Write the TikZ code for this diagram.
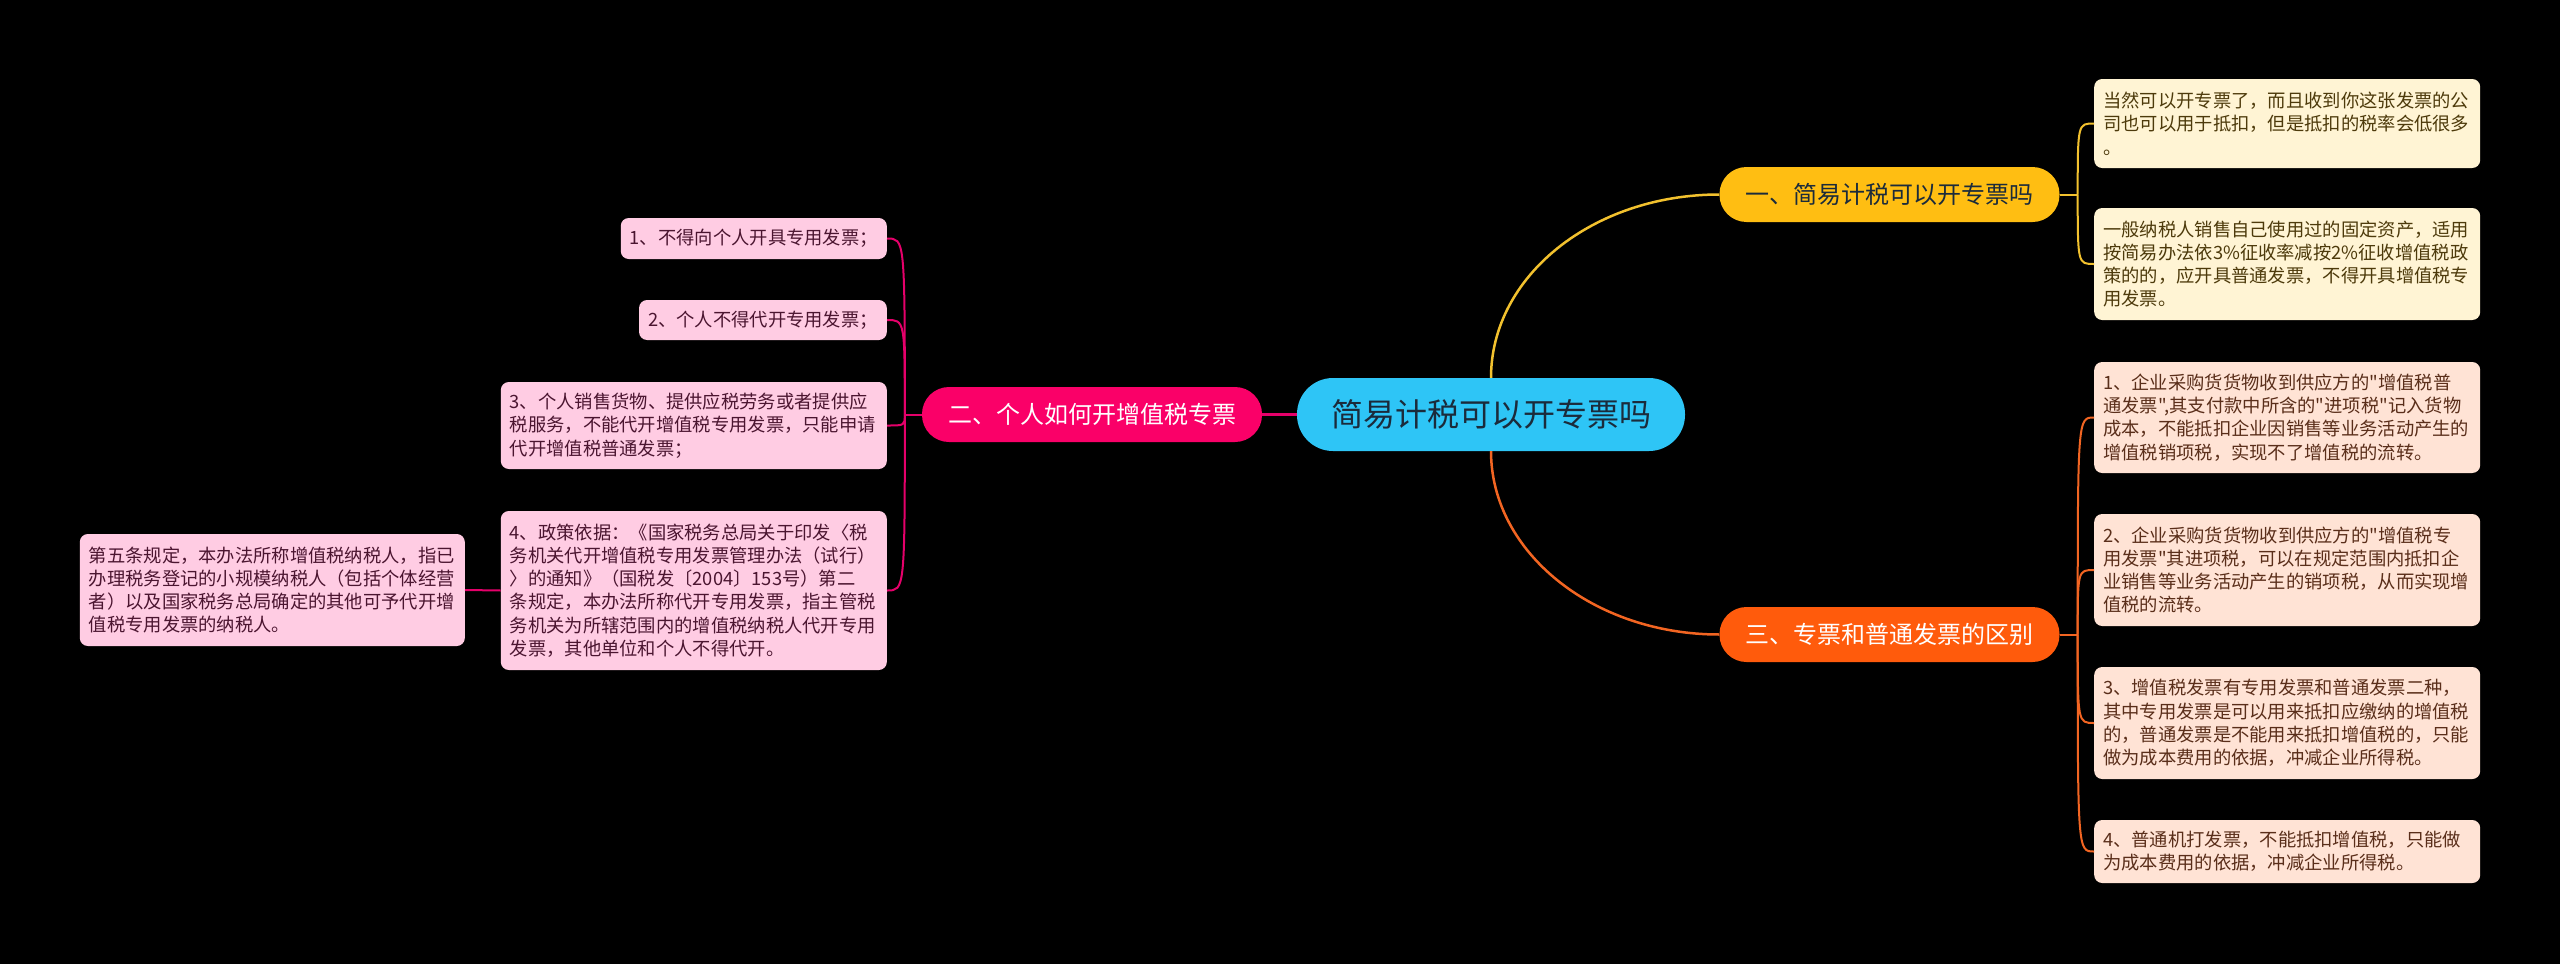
\documentclass[tikz,border=0pt]{standalone}
\usepackage{fontspec}
\setmainfont{Noto Sans CJK SC}[Ligatures=TeXOff]
\definecolor{cfill}{HTML}{2EC5F6}
\definecolor{ctext}{HTML}{1B2B3B}
\definecolor{yfill}{HTML}{FFBE12}
\definecolor{yline}{HTML}{F2C12E}
\definecolor{ofill}{HTML}{FF5B0C}
\definecolor{oline}{HTML}{F26522}
\definecolor{pfill}{HTML}{FA0068}
\definecolor{pline}{HTML}{E5006A}
\definecolor{ylf}{HTML}{FFF4D4}
\definecolor{ylt}{HTML}{4D3A0B}
\definecolor{olf}{HTML}{FFE3D5}
\definecolor{olt}{HTML}{5A2E1A}
\definecolor{plf}{HTML}{FFCCE3}
\definecolor{plt}{HTML}{4B1530}
\begin{document}
\begin{tikzpicture}[x=1pt,y=-1pt,
  centre/.style={fill=cfill, text=ctext, rounded corners=36pt, minimum width=388pt, minimum height=73pt, inner sep=0pt, font=\fontsize{32}{36}\selectfont},
  branch/.style={rounded corners=27pt, minimum width=340pt, minimum height=55pt, inner sep=0pt, font=\fontsize{24}{28}\selectfont},
  leaf/.style={rounded corners=8pt, inner xsep=9pt, inner ysep=0pt, align=left, font=\fontsize{18.3}{23.3}\selectfont},
  wide/.style={text width=368pt},
  yleaf/.style={leaf, fill=ylf, text=ylt, anchor=west},
  oleaf/.style={leaf, fill=olf, text=olt, anchor=west},
  pleaf/.style={leaf, fill=plf, text=plt, anchor=east},
  ycon/.style={draw=yline, line width=2.5pt},
  ocon/.style={draw=oline, line width=2.5pt},
  pcon/.style={draw=pline, line width=2.5pt},
  ysub/.style={draw=yline, line width=2pt},
  osub/.style={draw=oline, line width=2pt},
  psub/.style={draw=pline, line width=2pt}
]
\fill[black] (0,0) rectangle (2560,964);
\useasboundingbox (0,0) rectangle (2560,964);

% central and branches
\node[centre] (c) at (1491,414.5) {简易计税可以开专票吗};
\node[branch, fill=yfill, text=ctext] (b1) at (1889.5,194.5) {一、简易计税可以开专票吗};
\node[branch, fill=ofill, text=white] (b3) at (1889.5,634.5) {三、专票和普通发票的区别};
\node[branch, fill=pfill, text=white] (b2) at (1092,414.5) {二、个人如何开增值税专票};

% yellow leaves
\node[yleaf, wide, minimum height=89pt] (y1) at (2094,123.5) {当然可以开专票了，而且收到你这张发票的公\\司也可以用于抵扣，但是抵扣的税率会低很多\\。};
\node[yleaf, wide, minimum height=112pt] (y2) at (2094,264) {一般纳税人销售自己使用过的固定资产，适用\\按简易办法依3\%征收率减按2\%征收增值税政\\策的的，应开具普通发票，不得开具增值税专\\用发票。};

% orange leaves
\node[oleaf, wide, minimum height=111pt] (o1) at (2094,417.5) {1、企业采购货货物收到供应方的"增值税普\\通发票",其支付款中所含的"进项税"记入货物\\成本，不能抵扣企业因销售等业务活动产生的\\增值税销项税，实现不了增值税的流转。};
\node[oleaf, wide, minimum height=112pt] (o2) at (2094,570) {2、企业采购货货物收到供应方的"增值税专\\用发票"其进项税，可以在规定范围内抵扣企\\业销售等业务活动产生的销项税，从而实现增\\值税的流转。};
\node[oleaf, wide, minimum height=112pt] (o3) at (2094,723) {3、增值税发票有专用发票和普通发票二种，\\其中专用发票是可以用来抵扣应缴纳的增值税\\的，普通发票是不能用来抵扣增值税的，只能\\做为成本费用的依据，冲减企业所得税。};
\node[oleaf, wide, minimum height=63pt] (o4) at (2094,851.5) {4、普通机打发票，不能抵扣增值税，只能做\\为成本费用的依据，冲减企业所得税。};

% pink leaves
\node[pleaf, minimum height=41pt] (p1) at (887,238.5) {1、不得向个人开具专用发票；};
\node[pleaf, minimum height=40pt] (p2) at (887,320) {2、个人不得代开专用发票；};
\node[pleaf, wide, minimum height=87pt] (p3) at (887,425.5) {3、个人销售货物、提供应税劳务或者提供应\\税服务，不能代开增值税专用发票，只能申请\\代开增值税普通发票；};
\node[pleaf, wide, minimum height=159pt] (p4) at (887,590.5) {4、政策依据：《国家税务总局关于印发〈税\\务机关代开增值税专用发票管理办法（试行）\\〉的通知》（国税发〔2004〕153号）第二\\条规定，本办法所称代开专用发票，指主管税\\务机关为所辖范围内的增值税纳税人代开专用\\发票，其他单位和个人不得代开。};
\node[pleaf, text width=367pt, minimum height=112pt] (q) at (465,590) {第五条规定，本办法所称增值税纳税人，指已\\办理税务登记的小规模纳税人（包括个体经营\\者）以及国家税务总局确定的其他可予代开增\\值税专用发票的纳税人。};

% main connectors
\draw[ycon] (c.north) .. controls +(0,-102) and +(-126,0) .. (b1.west);
\draw[ocon] (c.south) .. controls +(0,101) and +(-126,0) .. (b3.west);
\draw[pcon] (c.west) -- (b2.east);

% yellow sub connectors
\draw[ysub] (b1.east) -- ++(18,0) coordinate (jy);
\foreach \n in {y1,y2}{
  \draw[ysub] (jy) .. controls (jy |- \n.west) .. (\n.west);
}
% orange sub connectors
\draw[osub] (b3.east) -- ++(18,0) coordinate (jo);
\foreach \n in {o1,o2,o3,o4}{
  \draw[osub] (jo) .. controls (jo |- \n.west) .. (\n.west);
}
% pink sub connectors
\draw[psub] (b2.west) -- ++(-17,0) coordinate (jp);
\foreach \n in {p1,p2,p3,p4}{
  \draw[psub] (jp) .. controls (jp |- \n.east) .. (\n.east);
}
\draw[psub] (p4.west) -- (q.east);
\end{tikzpicture}
\end{document}
